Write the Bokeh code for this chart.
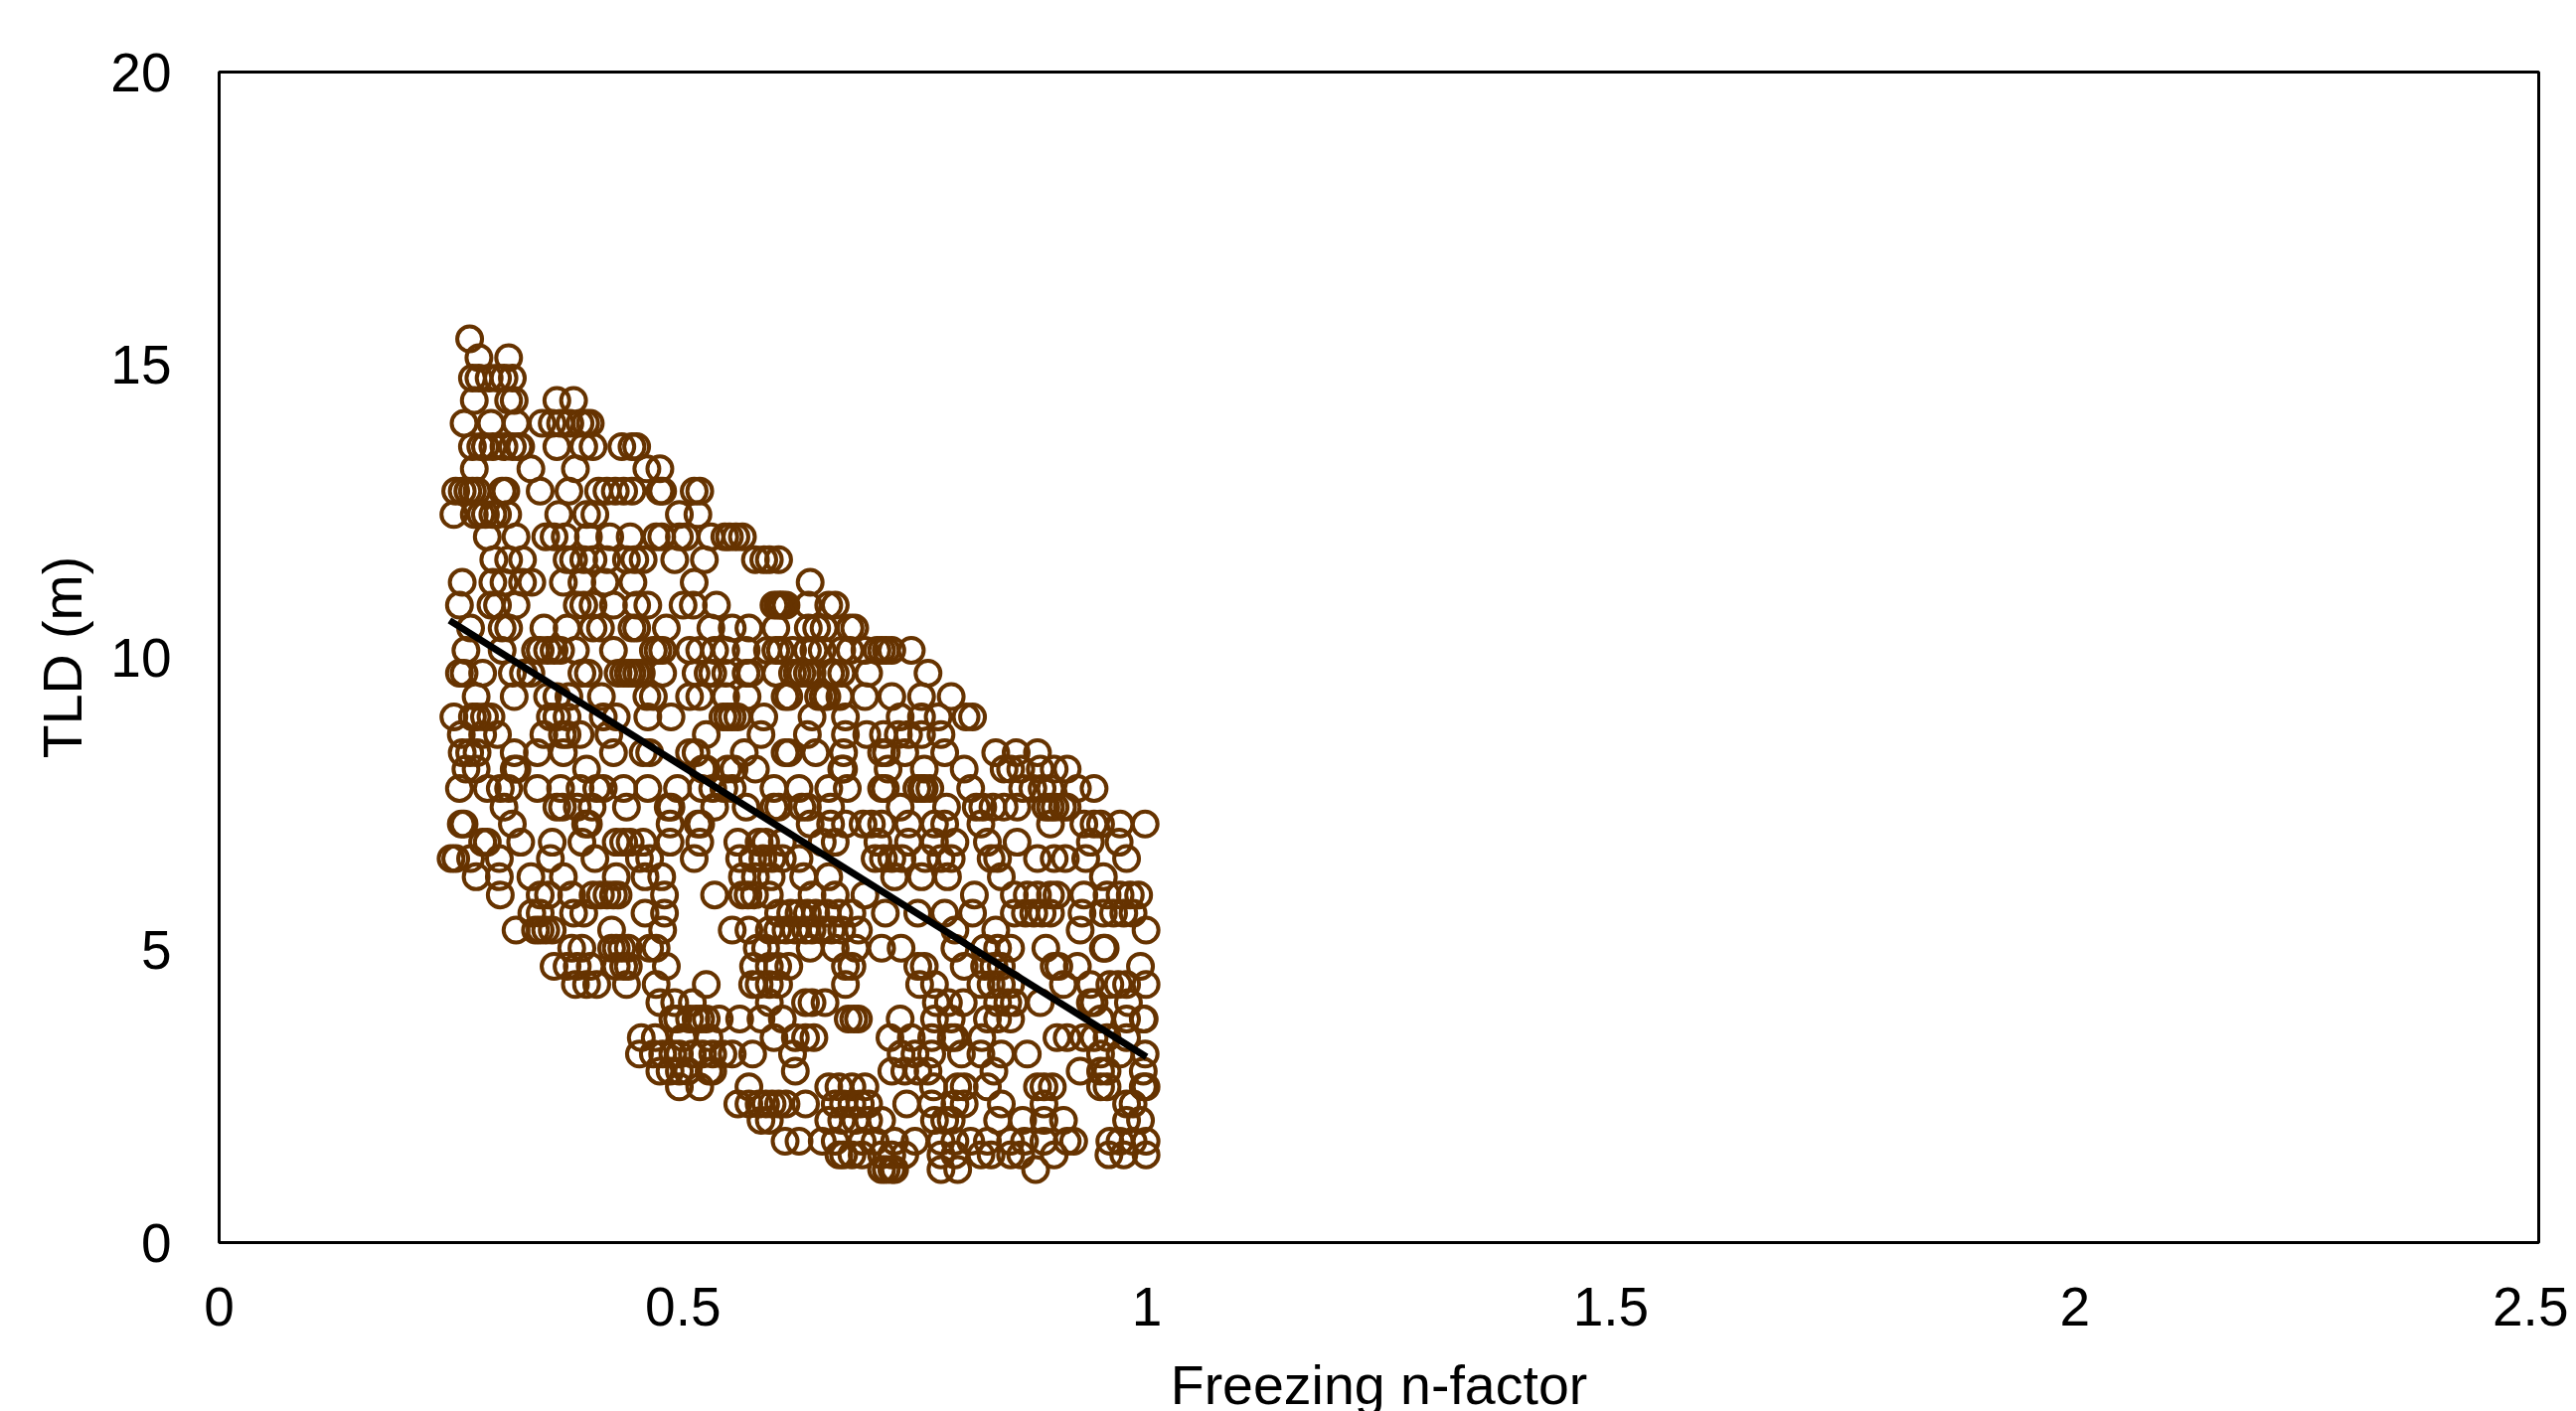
from bokeh.plotting import figure
from bokeh.models import FixedTicker
from bokeh.embed import file_html
from bokeh.resources import INLINE

x_ticks = [0, 0.5, 1, 1.5, 2, 2.5]
x_tick_labels = ["0", "0.5", "1", "1.5", "2", "2.5"]
y_ticks = [0, 5, 10, 15, 20]
y_tick_labels = ["0", "5", "10", "15", "20"]
x_label = "Freezing n-factor"
y_label = "TLD (m)"

trend_x = [0.2483, 0.9995]
trend_y = [10.63, 3.17]

r1544 = [.270]
r1512 = [.280, .312]
r1477 = [.273, .280, .291, .300, .307, .316]
r1439 = [.275, .312, .318, .364, .382]
r1400 = [.264, .293, .320, .348, .359, .368, .378, .389, .395, .400]
r1360 = [.273, .282, .287, .295, .307, .316, .323, .325, .364, .393, .403, .434, .445, .450]
r1322 = [.275, .336, .384, .461, .475]
r1284 = [.255, .262, .268, .273, .278, .305, .309, .346, .377, .409, .418, .427, .436, .445, .475, .478, .512, .518]
r1244 = [.253, .275, .282, .287, .295, .300, .311, .366, .396, .405, .496, .516]
r1206 = [.289, .320, .352, .361, .373, .398, .421, .443, .471, .477, .496, .503, .530, .545, .550, .557, .564]
r1167 = [.296, .312, .327, .375, .382, .393, .403, .418, .439, .448, .457, .491, .523, .578, .587, .593, .603]
r1128 = [.262, .295, .307, .327, .337, .371, .391, .416, .446, .512, .637]
r1089 = [.259, .293, .300, .320, .386, .393, .403, .425, .450, .462, .500, .511, .536, .598, .602, .605, .607, .611, .635, .657, .664]
r1050 = [.271, .305, .312, .350, .375, .403, .411, .445, .450, .482, .530, .553, .571, .600, .635, .644, .652, .680, .685]
r1012 = [.266, .305, .341, .346, .354, .361, .368, .384, .425, .468, .473, .478, .507, .518, .534, .546, .568, .591, .600, .605, .618, .634, .641, .650, .671, .680, .696, .709, .714, .719, .725, .746]
r973 = [.259, .264, .284, .316, .328, .336, .391, .398, .430, .436, .441, .445, .450, .455, .478, .514, .527, .532, .546, .568, .573, .600, .618, .623, .628, .634, .639, .659, .664, .671, .700, .764]
r933 = [.277, .318, .354, .364, .377, .412, .461, .468, .507, .518, .546, .569, .610, .614, .646, .651, .655, .669, .696, .725, .757, .789]
r898 = [.253, .273, .278, .286, .293, .357, .364, .375, .414, .428, .462, .487, .543, .548, .553, .559, .587, .639, .675, .734, .757, .775, .805, .812]
r868 = [.261, .284, .300, .350, .370, .375, .389, .420, .525, .584, .634, .675, .698, .716, .732, .743, .757, .778]
r837 = [.262, .270, .278, .318, .343, .371, .425, .457, .464, .507, .514, .566, .610, .614, .643, .673, .714, .719, .739, .782, .837, .859, .882]
r809 = [.266, .277, .318, .321, .396, .521, .525, .548, .555, .578, .671, .673, .721, .760, .803, .846, .853, .864, .885, .900, .914]
r776 = [.259, .289, .303, .312, .343, .368, .389, .407, .414, .436, .462, .494, .520, .532, .544, .553, .598, .625, .657, .677, .714, .718, .752, .757, .760, .766, .810, .866, .877, .887, .896, .925, .943]
r744 = [.307, .364, .370, .386, .402, .439, .484, .487, .534, .568, .598, .603, .628, .634, .659, .734, .784, .816, .823, .834, .846, .860, .891, .896, .901, .909, .914]
r715 = [.261, .264, .316, .395, .398, .486, .516, .519, .637, .659, .675, .694, .703, .714, .743, .771, .782, .821, .896, .932, .943, .950, .971, .998]
r684 = [.284, .289, .325, .359, .391, .428, .436, .443, .457, .486, .518, .559, .582, .589, .607, .650, .664, .710, .743, .771, .793, .828, .860, .939, .970]
r656 = [.250, .255, .271, .302, .357, .405, .453, .464, .512, .561, .575, .586, .596, .607, .625, .707, .716, .725, .736, .761, .778, .789, .832, .839, .882, .900, .912, .934, .978]
r625 = [.277, .302, .336, .371, .428, .459, .477, .564, .578, .595, .630, .657, .728, .757, .785, .843, .953]
r594 = [.303, .346, .355, .380, .403, .411, .418, .425, .430, .480, .534, .564, .570, .577, .593, .639, .664, .696, .814, .857, .871, .882, .896, .903, .932, .957, .971, .982, .991]
r563 = [.337, .346, .382, .393, .459, .480, .603, .616, .625, .634, .643, .655, .668, .682, .718, .753, .782, .812, .857, .869, .878, .887, .896, .930, .953, .964, .975, .985]
r534 = [.320, .341, .346, .352, .359, .423, .478, .553, .571, .593, .602, .611, .621, .632, .639, .650, .660, .671, .689, .793, .837, .928, .999]
r503 = [.380, .391, .423, .428, .434, .441, .464, .471, .580, .589, .637, .664, .686, .714, .735, .793, .825, .839, .853, .891, .953, .955]
r472 = [.361, .375, .386, .400, .428, .436, .441, .482, .576, .593, .602, .614, .675, .682, .753, .760, .803, .825, .835, .843, .900, .905, .925, .993]
r441 = [.384, .396, .407, .439, .471, .525, .575, .582, .593, .603, .675, .755, .771, .821, .832, .843, .853, .910, .939, .960, .969, .978, .999]
r410 = [.475, .491, .510, .593, .632, .639, .653, .773, .786, .802, .839, .850, .857, .885, .939, .943, .980]
r382 = [.489, .494, .507, .514, .519, .525, .539, .561, .584, .607, .678, .684, .689, .734, .771, .789, .828, .839, .853, .950, .978, .996, .997]
r350 = [.455, .470, .500, .528, .598, .621, .632, .641, .723, .746, .768, .789, .793, .822, .903, .914, .932, .943, .957, .978]
r322 = [.453, .468, .478, .489, .496, .510, .521, .532, .543, .553, .575, .618, .735, .750, .768, .800, .821, .843, .871, .950, .971, .998]
r293 = [.475, .486, .496, .505, .528, .532, .621, .725, .739, .753, .764, .835, .928, .950, .957, .996]
r266 = [.496, .518, .571, .657, .668, .682, .696, .770, .796, .803, .828, .882, .889, .898, .950, .957, .996, .999]
r237 = [.559, .571, .582, .589, .596, .603, .611, .632, .664, .673, .682, .691, .700, .741, .768, .793, .803, .843, .889, .978, .985]
r209 = [.584, .593, .657, .671, .686, .700, .714, .771, .782, .789, .839, .866, .889, .910, .978, .993]
r173 = [.610, .625, .650, .664, .693, .707, .728, .750, .778, .793, .810, .828, .853, .868, .889, .914, .921, .960, .971, .985, .999]
r150 = [.668, .673, .682, .693, .714, .725, .739, .778, .793, .821, .832, .853, .864, .900, .959, .975, .999]
r125 = [.714, .719, .725, .728, .778, .796, .880]

rows = [
    (15.44, r1544), (15.12, r1512), (14.77, r1477), (14.39, r1439), (14.00, r1400),
    (13.60, r1360), (13.22, r1322), (12.84, r1284), (12.44, r1244), (12.06, r1206),
    (11.67, r1167), (11.28, r1128), (10.89, r1089), (10.50, r1050), (10.12, r1012),
    (9.73, r973), (9.33, r933), (8.98, r898), (8.68, r868), (8.37, r837),
    (8.09, r809), (7.76, r776), (7.44, r744), (7.15, r715), (6.84, r684),
    (6.56, r656), (6.25, r625), (5.94, r594), (5.63, r563), (5.34, r534),
    (5.03, r503), (4.72, r472), (4.41, r441), (4.10, r410), (3.82, r382),
    (3.50, r350), (3.22, r322), (2.93, r293), (2.66, r266), (2.37, r237),
    (2.09, r209), (1.73, r173), (1.50, r150), (1.25, r125),
]
pts_x = [x for _, xs in rows for x in xs]
pts_y = [y for y, xs in rows for _ in xs]

FONT = "Liberation Sans"

p = figure(
    width=2584, height=1412, output_backend="svg", toolbar_location=None,
    x_range=(0, 2.5), y_range=(0, 20),
    frame_width=2334, frame_height=1178,
    min_border_left=220, min_border_right=30, min_border_top=72, min_border_bottom=162,
    background_fill_color="white", border_fill_color="white",
)
p.grid.visible = False
p.outline_line_color = "black"
p.outline_line_width = 3

for ax in (p.xaxis[0], p.yaxis[0]):
    ax.axis_line_color = None
    ax.major_tick_line_color = None
    ax.minor_tick_line_color = None
    ax.major_label_text_font = FONT
    ax.major_label_text_font_size = "55px"
    ax.major_label_text_color = "black"
    ax.axis_label_text_font = FONT
    ax.axis_label_text_font_size = "55.5px"
    ax.axis_label_text_font_style = "normal"
    ax.axis_label_text_color = "black"

p.xaxis[0].ticker = FixedTicker(ticks=x_ticks)
p.xaxis[0].major_label_overrides = dict(zip(x_ticks, x_tick_labels))
p.xaxis[0].major_label_standoff = 39
p.xaxis[0].axis_label = x_label
p.xaxis[0].axis_label_standoff = 26

p.yaxis[0].ticker = FixedTicker(ticks=y_ticks)
p.yaxis[0].major_label_overrides = dict(zip(y_ticks, y_tick_labels))
p.yaxis[0].major_label_standoff = 42
p.yaxis[0].axis_label = y_label
p.yaxis[0].axis_label_standoff = 14

p.scatter(pts_x, pts_y, marker="circle", size=25, fill_color=None,
          line_color="#663300", line_width=4)
p.line(trend_x, trend_y, line_color="black", line_width=7)

open("out.html", "w").write(file_html(p, INLINE))
